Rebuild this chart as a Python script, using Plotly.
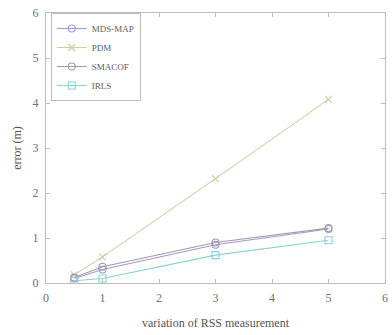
import plotly.graph_objects as go

# RSS measurement variation levels
x_vals = [0.5, 1, 3, 5]

# localization error (m) for each algorithm
mds_map = [0.10, 0.30, 0.85, 1.20]
pdm = [0.18, 0.58, 2.32, 4.08]
smacof = [0.12, 0.36, 0.90, 1.22]
irls = [0.05, 0.10, 0.62, 0.95]

series = [
    ("MDS-MAP", mds_map, "#a097dc", "circle-open"),
    ("PDM", pdm, "#cfcda6", "x-thin-open"),
    ("SMACOF", smacof, "#a8989f", "circle-open"),
    ("IRLS", irls, "#86d3d3", "square-open"),
]

fig = go.Figure()
for name, ys, color, sym in series:
    fig.add_trace(go.Scatter(
        x=x_vals, y=ys, name=name, mode="lines+markers",
        line=dict(color=color, width=1.1),
        marker=dict(symbol=sym, size=7, color=color, line=dict(color=color, width=1.1)),
    ))

axis_common = dict(
    showgrid=False, zeroline=False, showline=True, mirror="ticks",
    linecolor="#bdbdbd", linewidth=1, ticks="inside", ticklen=4,
    tickcolor="#bdbdbd", ticklabelstandoff=4,
    tickfont=dict(family="Liberation Serif", size=12, color="#707070"),
)

fig.update_layout(
    width=392, height=335,
    margin=dict(l=46, r=4, t=13, b=52),
    paper_bgcolor="white", plot_bgcolor="white",
    showlegend=True,
    legend=dict(
        x=0.014, y=1.0, xanchor="left", yanchor="top",
        bgcolor="white", bordercolor="#bdbdbd", borderwidth=1,
        font=dict(family="Liberation Serif", size=9, color="#5a5a5a"),
        itemwidth=30, tracegroupgap=0,
    ),
    xaxis=dict(range=[0, 6], tickvals=[0, 1, 2, 3, 4, 5, 6],
               title=dict(text="variation of RSS measurement",
                          font=dict(family="Liberation Serif", size=12, color="#555555"),
                          standoff=14),
               **axis_common),
    yaxis=dict(range=[0, 6], tickvals=[0, 1, 2, 3, 4, 5, 6],
               title=dict(text="error (m)",
                          font=dict(family="Liberation Serif", size=12, color="#555555"),
                          standoff=8),
               **axis_common),
)

fig.write_html("out.html")
